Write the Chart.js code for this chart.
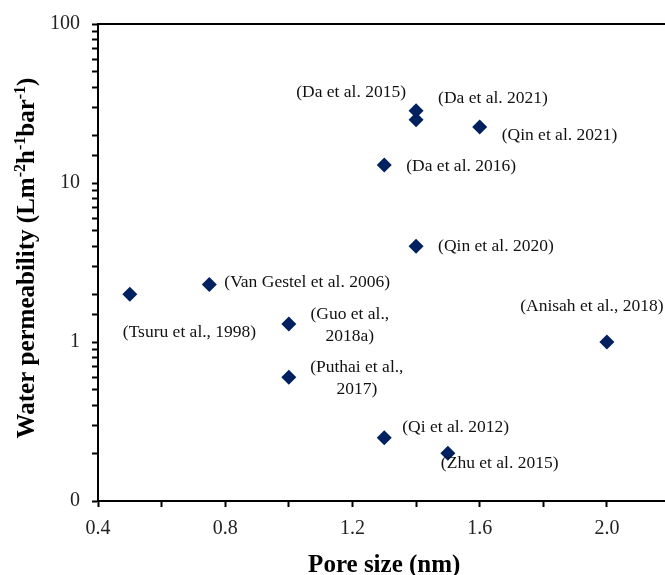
<!DOCTYPE html>
<html>
<head>
<meta charset="utf-8">
<script src="https://cdn.jsdelivr.net/npm/chart.js@4.4.1/dist/chart.umd.min.js"></script>
<style>
  html, body { margin: 0; padding: 0; background: #fff; overflow: hidden; }
  #wrap { width: 665px; height: 575px; overflow: hidden; }
</style>
</head>
<body>
<div id="wrap"><canvas id="myScatter" width="678" height="575"></canvas></div>
<script>
// data
var poreSize = [0.5, 0.75, 1.0, 1.0, 1.3, 1.5, 1.4, 1.3, 1.6, 1.4, 1.4, 2.0];
var permeability = [2.0, 2.3, 1.3, 0.6, 0.25, 0.2, 4.0, 13, 22.5, 28.5, 25, 1.0];
var studyLabels = [
  ["(Tsuru et al., 1998)"],
  ["(Van Gestel et al. 2006)"],
  ["(Guo et al.,", "2018a)"],
  ["(Puthai et al.,", "2017)"],
  ["(Qi et al. 2012)"],
  ["(Zhu et al. 2015)"],
  ["(Qin et al. 2020)"],
  ["(Da et al. 2016)"],
  ["(Qin et al. 2021)"],
  ["(Da et al. 2015)"],
  ["(Da et al. 2021)"],
  ["(Anisah et al., 2018)"]
];
var xTickLabels = ["0.4", "0.8", "1.2", "1.6", "2.0"];
var yTickLabels = {0.1: "0", 1: "1", 10: "10", 100: "100"};

// where each label sits relative to its marker (px)
var labelPlacement = [
  {dx: -7, dy: 38, align: "left"},
  {dx: 15, dy: -2, align: "left"},
  {dx: 61, dy: -9, align: "center"},
  {dx: 68, dy: -10, align: "center"},
  {dx: 18, dy: -10, align: "left"},
  {dx: -7, dy: 10, align: "left"},
  {dx: 22, dy: 0, align: "left"},
  {dx: 22, dy: 2, align: "left"},
  {dx: 22, dy: 8, align: "left"},
  {dx: -10, dy: -18, align: "right"},
  {dx: 22, dy: -21, align: "left"},
  {dx: -15, dy: -36, align: "center"}
];

var serif = "'Liberation Serif', 'Times New Roman', serif";
var navy = "#002060";

var points = [];
for (var i = 0; i < poreSize.length; i++) {
  points.push({x: poreSize[i], y: permeability[i]});
}

// draws the study names next to the markers
var pointLabels = {
  id: "pointLabels",
  afterDatasetsDraw: function(chart) {
    var ctx = chart.ctx;
    var meta = chart.getDatasetMeta(0);
    ctx.save();
    ctx.font = "17.5px " + serif;
    ctx.fillStyle = "#111";
    ctx.textBaseline = "middle";
    meta.data.forEach(function(pt, idx) {
      var p = labelPlacement[idx];
      ctx.textAlign = p.align;
      studyLabels[idx].forEach(function(line, k) {
        ctx.fillText(line, pt.x + p.dx, pt.y + p.dy + k * 22);
      });
    });
    ctx.restore();
  }
};

// top border of plot area + y title with superscripts
var frameAndTitle = {
  id: "frameAndTitle",
  afterDraw: function(chart) {
    var ctx = chart.ctx;
    var a = chart.chartArea;
    ctx.save();
    ctx.strokeStyle = "#000";
    ctx.lineWidth = 2;
    ctx.beginPath();
    ctx.moveTo(a.left, a.top);
    ctx.lineTo(a.right, a.top);
    ctx.stroke();

    var parts = [["Water permeability (Lm", 0], ["-2", 1], ["h", 0], ["-1", 1], ["bar", 0], ["-1", 1], [")", 0]];
    var big = "bold 25px " + serif, small = "bold 16px " + serif;
    var total = 0;
    parts.forEach(function(p) {
      ctx.font = p[1] ? small : big;
      total += ctx.measureText(p[0]).width;
    });
    ctx.translate(28, 258);
    ctx.rotate(-Math.PI / 2);
    ctx.fillStyle = "#000";
    ctx.textBaseline = "middle";
    ctx.textAlign = "left";
    var x = -total / 2;
    parts.forEach(function(p) {
      ctx.font = p[1] ? small : big;
      ctx.fillText(p[0], x, p[1] ? -7 : 0);
      x += ctx.measureText(p[0]).width;
    });
    ctx.restore();
  }
};

var ctx = document.getElementById("myScatter");

var chart = new Chart(ctx, {
  type: "scatter",
  data: {
    datasets: [{
      label: "Water permeability",
      data: points,
      pointStyle: "rectRot",
      pointRadius: 7.5,
      pointHoverRadius: 7.5,
      backgroundColor: navy,
      borderColor: navy,
      borderWidth: 0
    }]
  },
  options: {
    responsive: false,
    animation: false,
    layout: {padding: {top: 21, right: 2, left: 0, bottom: 0}},
    plugins: {
      legend: {display: false},
      tooltip: {enabled: false}
    },
    scales: {
      x: {
        type: "linear",
        min: 0.4,
        max: 2.2,
        afterFit: function(scale) {
          scale.height = 74;
          scale.paddingLeft = 0;
          scale.paddingRight = 0;
        },
        border: {display: true, color: "#000", width: 2},
        grid: {drawOnChartArea: false, drawTicks: true, tickLength: 6, tickColor: "#000", tickWidth: 2},
        ticks: {
          stepSize: 0.2,
          padding: 10,
          color: "#222",
          font: {family: serif, size: 20},
          maxRotation: 0,
          autoSkip: false,
          callback: function(v) {
            var s = v.toFixed(1);
            return xTickLabels.indexOf(s) >= 0 ? s : "";
          }
        },
        title: {
          display: true,
          text: "Pore size (nm)",
          color: "#000",
          font: {family: serif, size: 25, weight: "bold"},
          padding: {top: 0, bottom: -6}
        }
      },
      y: {
        type: "logarithmic",
        min: 0.1,
        max: 100,
        afterFit: function(scale) { scale.width = 98; },
        border: {display: true, color: "#000", width: 2},
        grid: {drawOnChartArea: false, drawTicks: true, tickLength: 6, tickColor: "#000", tickWidth: 2},
        ticks: {
          padding: 12,
          color: "#222",
          font: {family: serif, size: 20},
          autoSkip: false,
          callback: function(v) {
            var key = Number(v.toPrecision(3));
            return yTickLabels[key] !== undefined ? yTickLabels[key] : "";
          }
        }
      }
    }
  },
  plugins: [pointLabels, frameAndTitle]
});
</script>
</body>
</html>
